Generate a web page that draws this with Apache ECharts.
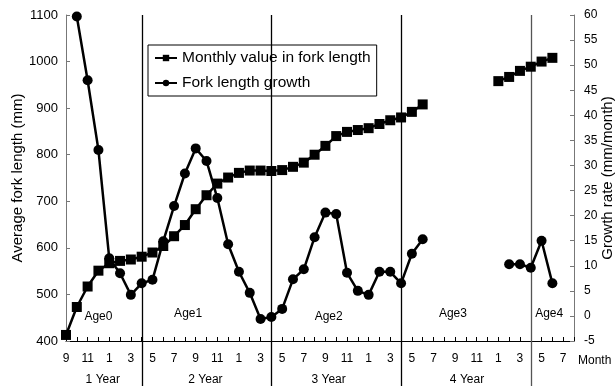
<!DOCTYPE html>
<html><head><meta charset="utf-8">
<script src="https://cdn.jsdelivr.net/npm/echarts@6/dist/echarts.min.js"></script>
<style>html,body{margin:0;padding:0;background:#fff}#c{width:615px;height:386px}</style>
</head><body><div id="c"></div>
<script>
// x categories: months from Sep (1 Year) to Aug (5th year)
const months = [9,10,11,12,1,2,3,4,5,6,7,8, 9,10,11,12,1,2,3,4,5,6,7,8,
                9,10,11,12,1,2,3,4,5,6,7,8, 9,10,11,12,1,2,3,4,5,6,7,8];
// Average fork length (mm)
const forkLength = [413,473,517,551,567,572,575,581,590,604,625,649,
                    683,713,738,751,761,766,766,765,767,774,783,800,
                    819,840,849,853,857,866,874,880,892,908,null,null,
                    null,null,null,null,958,967,980,989,1000,1008,null,null];
// Growth rate (mm/month)
const growthRate = [null,59.7,47.0,33.1,11.5,8.5,4.2,6.5,7.2,14.9,21.9,28.4,
                    33.4,30.9,23.5,14.3,8.8,4.6,-0.6,-0.2,1.4,7.3,9.3,15.7,
                    20.6,20.3,8.6,5.0,4.2,8.8,8.8,6.5,12.4,15.3,null,null,
                    null,null,null,null,null,10.3,10.3,9.6,15.0,6.5,null,null];
const leftTicks = {min:400, max:1100, interval:100};
const rightTicks = {min:-5, max:60, interval:5};
const yearDividers = [7,19,31,43];
const yearLabels = ['1 Year','2 Year','3 Year','4 Year'];
const yearLabelPos = [3.4,12.9,24.3,37.1];
const ageLabels = ['Age0','Age1','Age2','Age3','Age4'];
const ageLabelPos = [3.0,11.3,24.3,35.8,44.7];
const ageLabelVal = [452,459,452,459,459];

const FONT = 'Liberation Sans, Arial, sans-serif';
const chart = echarts.init(document.getElementById('c'));
chart.setOption({
  animation:false,
  grid:{left:66,right:41,top:15,bottom:45,containLabel:false,outerBoundsMode:'none'},
  legend:{
    orient:'vertical', left:148, top:45,
    itemWidth:22, itemHeight:8, itemGap:9,
    padding:[5,6,5,6],
    borderColor:'#000', borderWidth:1,
    textStyle:{fontSize:15.5,fontFamily:FONT,color:'#000'},
    data:['Monthly value in fork length','Fork length growth']
  },
  xAxis:{
    type:'category', boundaryGap:false, data:months,
    name:'Month', nameLocation:'end', nameGap:4, nameMoveOverlap:false,
    nameTextStyle:{fontSize:12,fontFamily:FONT,color:'#000',verticalAlign:'top',padding:[14,0,0,0]},
    axisLine:{onZero:false,lineStyle:{color:'#000',width:1}},
    axisTick:{inside:true,length:4,interval:0,lineStyle:{color:'#000'}},
    axisLabel:{interval:1,fontSize:12,fontFamily:FONT,color:'#000',margin:12},
    splitLine:{show:false}
  },
  yAxis:[{
    type:'value', min:leftTicks.min, max:leftTicks.max, interval:leftTicks.interval,
    name:'Average fork length (mm)', nameLocation:'middle', nameGap:41, nameMoveOverlap:false,
    nameTextStyle:{fontSize:15,fontFamily:FONT,color:'#000'},
    axisLine:{show:true,onZero:false,lineStyle:{color:'#777'}},
    axisTick:{show:true,inside:true,length:4,lineStyle:{color:'#777'}},
    axisLabel:{fontSize:13,fontFamily:FONT,color:'#000',margin:8,formatter:v=>String(v)},
    splitLine:{show:false}
  },{
    type:'value', min:rightTicks.min, max:rightTicks.max, interval:rightTicks.interval,
    position:'right',
    name:'Growth rate (mm/month)', nameLocation:'middle', nameGap:26, nameRotate:90, nameMoveOverlap:false,
    nameTextStyle:{fontSize:15,fontFamily:FONT,color:'#000'},
    axisLine:{show:true,onZero:false,lineStyle:{color:'#777'}},
    axisTick:{show:true,inside:true,length:4,lineStyle:{color:'#777'}},
    axisLabel:{fontSize:12,fontFamily:FONT,color:'#000',margin:10,formatter:v=>String(v)},
    splitLine:{show:false}
  }],
  series:[{
    name:'Monthly value in fork length', type:'line', data:forkLength,
    symbol:'rect', symbolSize:10, showAllSymbol:true,
    lineStyle:{color:'#000',width:2.5}, itemStyle:{color:'#000'}
  },{
    name:'Fork length growth', type:'line', yAxisIndex:1, data:growthRate,
    symbol:'circle', symbolSize:10, showAllSymbol:true,
    lineStyle:{color:'#000',width:2.5}, itemStyle:{color:'#000'}
  }]
});

const x0 = chart.convertToPixel({xAxisIndex:0}, 0);
const x47 = chart.convertToPixel({xAxisIndex:0}, months.length-1);
const px = i => x0 + (x47-x0)*i/(months.length-1);
const yTop = chart.convertToPixel({yAxisIndex:0}, leftTicks.max);
const g = [];
yearDividers.forEach((i,k)=>{
  const x = Math.round(px(i))+0.5;
  g.push({type:'line',shape:{x1:x,y1:yTop,x2:x,y2:386},
    style:{stroke:k===3?'#555':'#000',lineWidth:1.3},z:1});
});
yearLabels.forEach((t,k)=>{
  g.push({type:'text',x:px(yearLabelPos[k]),y:380,
    style:{text:t,fontSize:12,fontFamily:FONT,fill:'#000',align:'center',verticalAlign:'middle'}});
});
ageLabels.forEach((t,k)=>{
  g.push({type:'text',x:px(ageLabelPos[k]),y:chart.convertToPixel({yAxisIndex:0}, ageLabelVal[k]),
    style:{text:t,fontSize:12,fontFamily:FONT,fill:'#000',align:'center',verticalAlign:'middle'}});
});
chart.setOption({graphic:g});
</script></body></html>
